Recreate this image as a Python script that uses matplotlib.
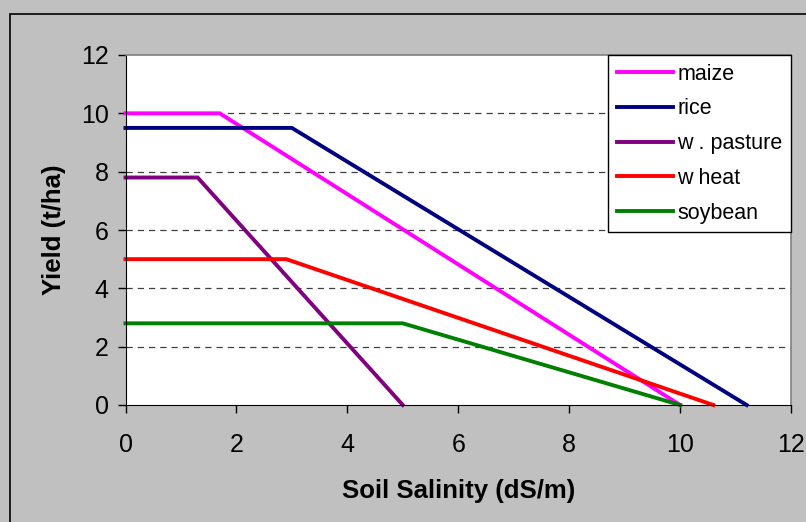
import matplotlib.pyplot as plt
from matplotlib.patches import Rectangle

plt.rcParams['font.family'] = ['Liberation Sans', 'DejaVu Sans']

# salinity response curves (x = soil salinity dS/m, y = yield t/ha)
maize_x = [0, 1.7, 10.0]
maize_y = [10.0, 10.0, 0]
rice_x = [0, 3.0, 11.2]
rice_y = [9.5, 9.5, 0]
pasture_x = [0, 1.3, 5.0]
pasture_y = [7.8, 7.8, 0]
wheat_x = [0, 2.9, 10.6]
wheat_y = [5.0, 5.0, 0]
soy_x = [0, 5.0, 10.0]
soy_y = [2.8, 2.8, 0]

labels = ['maize', 'rice', 'w . pasture', 'w heat', 'soybean']
colors = ['#ff00ff', '#000080', '#800080', '#ff0000', '#008000']

fig = plt.figure(figsize=(8.06, 5.22), dpi=100, facecolor='#c0c0c0')
# outer chart border
fig.patches.append(Rectangle((10/806, -0.1), 1.2, (522-14)/522 + 0.1, transform=fig.transFigure,
                             fill=False, edgecolor='black', linewidth=1.2))
ax = fig.add_axes([125.5/806, 1 - 405/522, (791 - 125.5)/806, (405 - 55)/522])
ax.set_facecolor('white')

series = [(maize_x, maize_y), (rice_x, rice_y), (pasture_x, pasture_y),
          (wheat_x, wheat_y), (soy_x, soy_y)]
for (xs, ys), lab, c in zip(series, labels, colors):
    ax.plot(xs, ys, color=c, lw=2.8, label=lab, solid_joinstyle='miter', clip_on=False)

ax.set_xlim(0, 12)
ax.set_ylim(0, 12)
ax.set_xticks(range(0, 13, 2))
ax.set_yticks(range(0, 13, 2))
for y in range(2, 12, 2):
    ax.axhline(y, color='#404040', lw=0.9, ls=(0, (5, 4)), zorder=0)

ax.spines['top'].set_color('#808080')
ax.spines['right'].set_color('#808080')
ax.spines['top'].set_linewidth(1.2)
ax.spines['right'].set_linewidth(1.2)
ax.tick_params(direction='out', length=6, width=1, labelsize=18, pad=6,
               top=False, right=False)
ax.tick_params(axis='x', pad=14)

ax.set_xlabel('Soil Salinity (dS/m)', fontsize=18.5, fontweight='bold', labelpad=16)
ax.set_ylabel('Yield (t/ha)', fontsize=18.5, fontweight='bold', labelpad=11)

leg = ax.legend(loc='upper right', bbox_to_anchor=(1.0, 1.0), fontsize=15.5,
                frameon=True, fancybox=False, edgecolor='black', framealpha=1,
                borderaxespad=0, handlelength=2.6, handletextpad=0.2,
                labelspacing=0.64, borderpad=0.4)
leg.get_frame().set_linewidth(1)

fig.savefig('out.png', dpi=100, facecolor=fig.get_facecolor())
